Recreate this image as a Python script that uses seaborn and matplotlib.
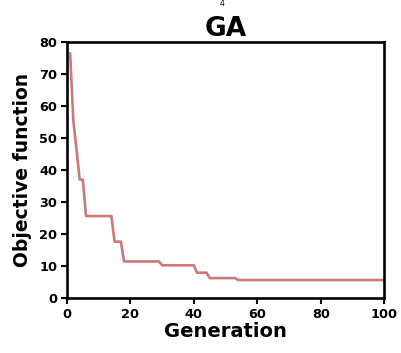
import numpy as np
import pandas as pd
import matplotlib
matplotlib.use("Agg")
import matplotlib.pyplot as plt
import seaborn as sns

generation = list(range(1, 101))
objective = (
    [76.5, 55.5, 46.5, 37.0, 37.0]
    + [25.6] * 9            # gen 6-14
    + [17.6] * 3            # gen 15-17
    + [11.4] * 12           # gen 18-29
    + [10.2] * 11           # gen 30-40
    + [7.9] * 4             # gen 41-44
    + [6.2] * 9             # gen 45-53
    + [5.6] * 47            # gen 54-100
)
x_ticks = [0, 20, 40, 60, 80, 100]
y_ticks = [0, 10, 20, 30, 40, 50, 60, 70, 80]

df = pd.DataFrame({"Generation": generation, "Objective": objective})

sns.set_style("ticks")
plt.rcParams["font.family"] = ["DejaVu Sans"]
plt.rcParams["text.color"] = "black"
plt.rcParams["axes.labelcolor"] = "black"
plt.rcParams["xtick.color"] = "black"
plt.rcParams["ytick.color"] = "black"

fig = plt.figure(figsize=(4.01, 3.53), dpi=100)
ax = fig.add_axes([0.167, 0.156, 0.791, 0.725])

sns.lineplot(data=df, x="Generation", y="Objective", ax=ax,
             color="#c97a7a", linewidth=1.9)

ax.set_xlim(0, 100)
ax.set_ylim(0, 80)
ax.set_xticks(x_ticks)
ax.set_yticks(y_ticks)
ax.set_xlabel("Generation", fontsize=14, fontweight="bold", labelpad=1, color="black")
ax.set_ylabel("Objective function", fontsize=13.5, fontweight="bold", labelpad=5, color="black")
ax.set_title("GA", fontsize=19, fontweight="bold", pad=4, color="black")

for lab in ax.get_xticklabels() + ax.get_yticklabels():
    lab.set_fontweight("bold")
    lab.set_fontsize(9.3)
    lab.set_color("black")

for s in ax.spines.values():
    s.set_visible(True)
    s.set_linewidth(1.9)
    s.set_color("black")
ax.tick_params(axis="both", length=4.5, width=1.5, color="black", pad=2.5)

fig.text(0.553, 0.99, "4", fontsize=5.5, ha="center", va="center", color="black")

fig.savefig("out.png", dpi=100)
